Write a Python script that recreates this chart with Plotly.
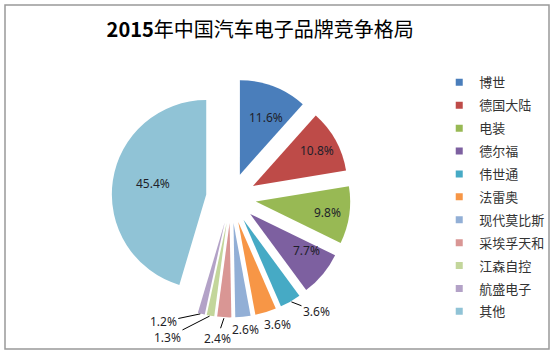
import math
import plotly.graph_objects as go

title = "<b>2015</b>年中国汽车电子品牌竞争格局"
brands = ["博世", "德国大陆", "电装", "德尔福", "伟世通", "法雷奥",
          "现代莫比斯", "采埃孚天和", "江森自控", "航盛电子", "其他"]
shares = [11.6, 10.8, 9.8, 7.7, 3.6, 3.6, 2.6, 2.4, 1.3, 1.2, 45.4]
colors = ["#4A7EBB", "#BE4B48", "#98B954", "#7D60A0", "#46AAC5", "#F79646",
          "#92AFD6", "#D99694", "#C3D69B", "#B3A2C7", "#90C3D6"]

# label placement style: None -> inside label; (dx, dy, leader) -> outside label offset in px
label_style = [None, None, None, None,
               (26, 10, True), (12, 12, False), (3, 13, False),
               (-7, 21, True), (-43, 22, True), (-38, 8, True), None]

W, H = 556, 353
PULL = 0.265
DOM_X = [0.2007, 0.6302]
DOM_Y = [0.1008, 0.7773]

fig = go.Figure()
fig.add_trace(go.Pie(
    labels=brands, values=shares, sort=False, direction="clockwise", rotation=0,
    marker=dict(colors=colors, line=dict(width=0)),
    pull=[PULL] * len(shares), textinfo="none",
    domain=dict(x=DOM_X, y=DOM_Y),
    showlegend=False, hoverinfo="label+percent",
))

for name, col in zip(brands, colors):
    fig.add_trace(go.Scatter(
        x=[None], y=[None], mode="markers", name=name, legendgroup=name,
        marker=dict(symbol="square", size=7, color=col),
    ))

# pie geometry as laid out by plotly (domain centre, radius shrunk by the pull)
cx = (DOM_X[0] + DOM_X[1]) / 2 * W
cy = (1 - (DOM_Y[0] + DOM_Y[1]) / 2) * H
box = min((DOM_X[1] - DOM_X[0]) * W, (DOM_Y[1] - DOM_Y[0]) * H)
R = box / (2 * (1 + PULL))
total = sum(shares)

annotations = []
cum = 0.0
lab_font = dict(family="Noto Sans", size=12, color="#1f1f2a")
for v, st in zip(shares, label_style):
    mid = 2 * math.pi * (cum + v / 2) / total
    cum += v
    txt = f"{v:.1f}%"
    if st is None:
        rr = (PULL + 0.77) * R
        px, py = cx + rr * math.sin(mid), cy - rr * math.cos(mid)
        annotations.append(dict(x=px / W, y=1 - py / H, xref="paper", yref="paper",
                                text=txt, showarrow=False, font=lab_font))
    else:
        dx, dy, leader = st
        rr = (1 + PULL) * R
        px, py = cx + rr * math.sin(mid), cy - rr * math.cos(mid)
        annotations.append(dict(x=px / W, y=1 - py / H, xref="paper", yref="paper",
                                text=txt, showarrow=True, ax=dx, ay=dy,
                                arrowhead=0, arrowwidth=1, standoff=1,
                                arrowcolor="#000000" if leader else "rgba(0,0,0,0)",
                                font=lab_font))

fig.update_layout(
    width=W, height=H, autosize=False,
    margin=dict(l=0, r=0, t=0, b=0, autoexpand=False),
    paper_bgcolor="white", plot_bgcolor="white",
    xaxis=dict(visible=False), yaxis=dict(visible=False),
    title=dict(text=title, x=0.468, xanchor="center", y=0.915, yanchor="middle",
               font=dict(family="Noto Sans CJK SC", size=20, color="#000000")),
    legend=dict(x=0.79, xanchor="left", y=0.809, yanchor="top",
                font=dict(family="Noto Sans CJK SC", size=13, color="#333333"),
                tracegroupgap=3, bgcolor="rgba(0,0,0,0)"),
    annotations=annotations,
    shapes=[dict(type="rect", xref="paper", yref="paper",
                 x0=5/556, x1=549/556, y0=1-349/353, y1=1-5/353,
                 line=dict(color="#999999", width=1.5))],
)

fig.write_html("out.html")
